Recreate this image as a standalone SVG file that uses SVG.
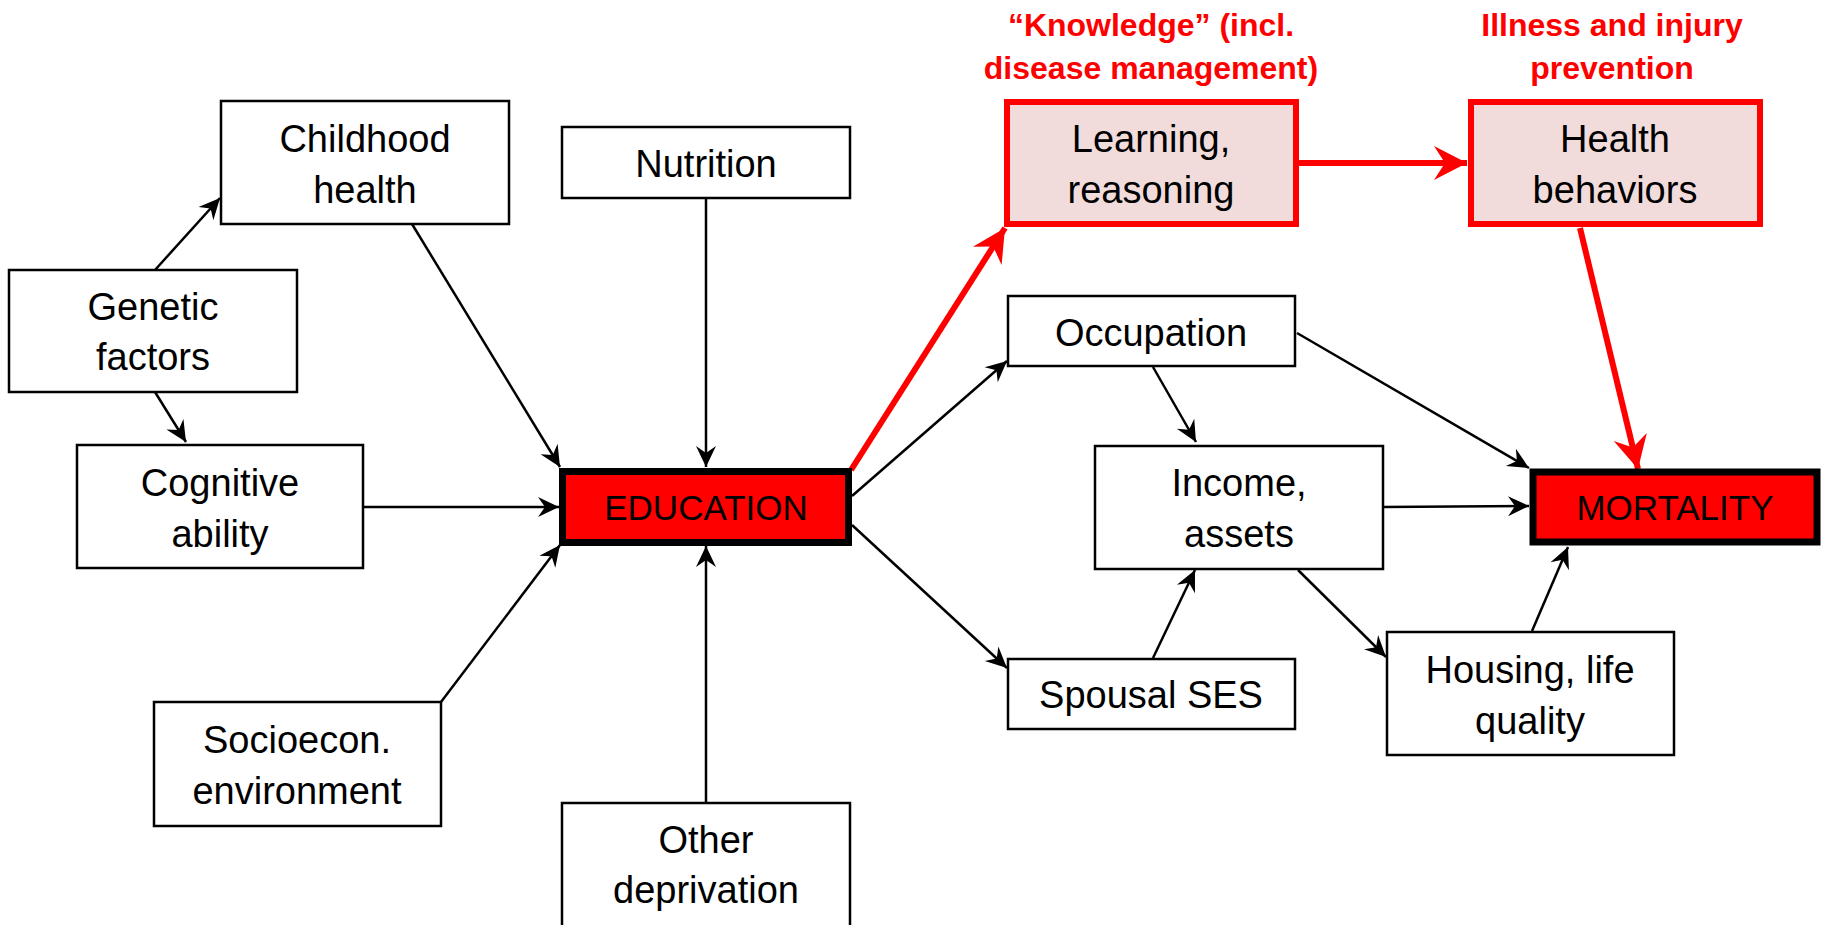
<svg xmlns="http://www.w3.org/2000/svg" width="1826" height="925" viewBox="0 0 1826 925">
<style>
.box{fill:#fff;stroke:#000;stroke-width:2.5}
.main{fill:#ff0000;stroke:#000;stroke-width:7}
.hl{fill:#f2dcdb;stroke:#ff0000;stroke-width:6}
.t{font-family:"Liberation Sans",Arial,sans-serif;font-size:38px;fill:#000;text-anchor:middle}
.tm{font-family:"Liberation Sans",Arial,sans-serif;font-size:35px;fill:#000;text-anchor:middle}
.lab{font-family:"Liberation Sans",Arial,sans-serif;font-size:32px;font-weight:bold;fill:#ff0000;text-anchor:middle}
.c{stroke:#000;stroke-width:2.5;fill:none;marker-end:url(#ab)}
.r{stroke:#ff0000;stroke-width:6;fill:none;marker-end:url(#ar)}
</style>
<defs>
<marker id="ab" markerUnits="userSpaceOnUse" viewBox="-24 -13 26 26" markerWidth="26" markerHeight="26" refX="0" refY="0" orient="auto">
<path d="M0,0 L-21,-10 L-14,0 L-21,10 Z" fill="#000"/>
</marker>
<marker id="ar" markerUnits="userSpaceOnUse" viewBox="-36 -20 38 40" markerWidth="38" markerHeight="40" refX="0" refY="0" orient="auto">
<path d="M0,0 L-33,-17 L-22,0 L-33,17 Z" fill="#ff0000"/>
</marker>
</defs>
<g id="connectors">
<line class="c" x1="155" y1="270" x2="220" y2="198"/>
<line class="c" x1="155" y1="392" x2="186" y2="442"/>
<line class="c" x1="412" y1="224" x2="560" y2="467"/>
<line class="c" x1="363" y1="507" x2="559" y2="507"/>
<line class="c" x1="441" y1="702" x2="560" y2="545"/>
<line class="c" x1="706" y1="198" x2="706" y2="467"/>
<line class="c" x1="706" y1="803" x2="706" y2="546"/>
<line class="c" x1="852" y1="496" x2="1007" y2="361"/>
<line class="c" x1="852" y1="525" x2="1007" y2="668"/>
<line class="c" x1="1153" y1="367" x2="1196" y2="442"/>
<line class="c" x1="1297" y1="333" x2="1529" y2="468"/>
<line class="c" x1="1383" y1="507" x2="1529" y2="506"/>
<line class="c" x1="1153" y1="658" x2="1195" y2="570"/>
<line class="c" x1="1298" y1="570" x2="1386" y2="657"/>
<line class="c" x1="1532" y1="631" x2="1568" y2="547"/>
<line class="r" x1="851" y1="470" x2="1005" y2="228"/>
<line class="r" x1="1299" y1="163" x2="1467" y2="163"/>
<line class="r" x1="1580" y1="228" x2="1638" y2="469"/>
</g>
<g id="childhood"><rect class="box" x="221" y="101" width="288" height="123"/><text class="t" x="365" y="152">Childhood</text><text class="t" x="365" y="203">health</text></g>
<g id="genetic"><rect class="box" x="9" y="270" width="288" height="122"/><text class="t" x="153" y="320">Genetic</text><text class="t" x="153" y="370">factors</text></g>
<g id="cognitive"><rect class="box" x="77" y="445" width="286" height="123"/><text class="t" x="220" y="496">Cognitive</text><text class="t" x="220" y="547">ability</text></g>
<g id="socioecon"><rect class="box" x="154" y="702" width="287" height="124"/><text class="t" x="297" y="753">Socioecon.</text><text class="t" x="297" y="804">environment</text></g>
<g id="nutrition"><rect class="box" x="562" y="127" width="288" height="71"/><text class="t" x="706" y="177">Nutrition</text></g>
<g id="education"><rect class="main" x="562.5" y="471.5" width="286" height="71"/><text class="tm" x="706" y="520">EDUCATION</text></g>
<g id="other"><rect class="box" x="562" y="803" width="288" height="140"/><text class="t" x="706" y="853">Other</text><text class="t" x="706" y="903">deprivation</text></g>
<g id="learning"><rect class="hl" x="1007" y="102" width="289" height="122"/><text class="t" x="1151" y="152">Learning,</text><text class="t" x="1151" y="203">reasoning</text></g>
<g id="health"><rect class="hl" x="1471" y="102" width="289" height="122"/><text class="t" x="1615" y="152">Health</text><text class="t" x="1615" y="203">behaviors</text></g>
<g id="occupation"><rect class="box" x="1008" y="296" width="287" height="70"/><text class="t" x="1151" y="346">Occupation</text></g>
<g id="income"><rect class="box" x="1095" y="446" width="288" height="123"/><text class="t" x="1239" y="496">Income,</text><text class="t" x="1239" y="547">assets</text></g>
<g id="spousal"><rect class="box" x="1008" y="659" width="287" height="70"/><text class="t" x="1151" y="708">Spousal SES</text></g>
<g id="housing"><rect class="box" x="1387" y="632" width="287" height="123"/><text class="t" x="1530" y="683">Housing, life</text><text class="t" x="1530" y="734">quality</text></g>
<g id="mortality"><rect class="main" x="1533" y="472" width="284" height="70"/><text class="tm" x="1675" y="520">MORTALITY</text></g>
<g id="labels">
<text class="lab" x="1151" y="36">“Knowledge” (incl.</text>
<text class="lab" x="1151" y="79">disease management)</text>
<text class="lab" x="1612" y="36">Illness and injury</text>
<text class="lab" x="1612" y="79">prevention</text>
</g>
</svg>
